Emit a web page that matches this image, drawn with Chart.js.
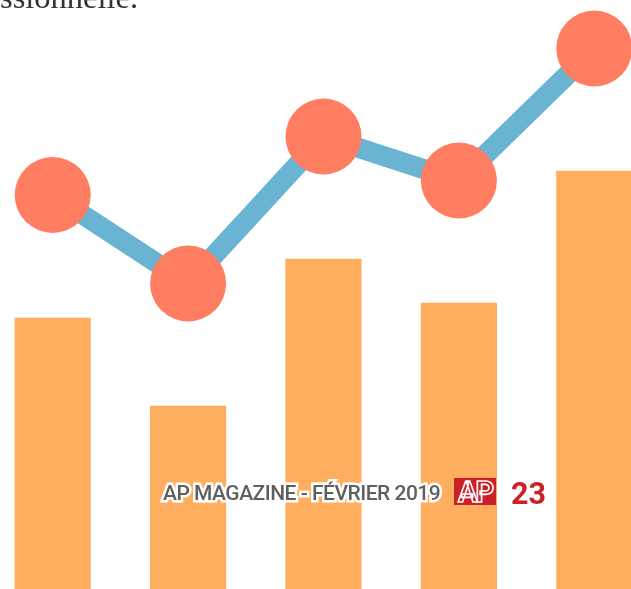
<!DOCTYPE html>
<html lang="fr">
<head>
<meta charset="utf-8">
<title>AP Magazine</title>
<script src="https://cdn.jsdelivr.net/npm/chart.js@4/dist/chart.umd.min.js"></script>
<style>
  html, body { margin: 0; padding: 0; background: #fff; overflow: hidden; width: 631px; height: 589px; }
  /* the line points push the chart area in by their radius, so the canvas is 38px larger on each side */
  #wrap { position: absolute; left: -53px; top: -38px; width: 753px; height: 665px; }
  #top-text { position: absolute; left: 0px; top: -21px; font: 32.5px "Liberation Serif", serif; color: #333; white-space: nowrap; }
  #footer { position: absolute; left: 163px; top: 481px; font: 500 21px Roboto, sans-serif; color: #5f5f5f; white-space: nowrap;
    -webkit-text-stroke: 5px #fff; paint-order: stroke fill; letter-spacing: -0.5px; }
  #logo { position: absolute; left: 454px; top: 478px; width: 42px; height: 27px; background: #cb2027; color: #cb2027;
    font: bold 29px/28px Roboto, sans-serif; text-align: center; -webkit-text-stroke: 1.6px #fff; letter-spacing: -2px; overflow: hidden; }
  #page { position: absolute; left: 511px; top: 476px; font: bold 30.5px Roboto, sans-serif; color: #cb2027; }
</style>
</head>
<body>
<div id="wrap"><canvas id="chart" width="753" height="665"></canvas></div>
<div id="top-text">ssionnelle.</div>
<div id="footer">AP MAGAZINE - FÉVRIER 2019</div>
<div id="logo">AP</div>
<div id="page">23</div>
<script>
const labels = ["1", "2", "3", "4", "5"];
const barValues = [271, 183, 330, 286, 418];
const lineValues = [394, 305.5, 452.5, 408.5, 540.5];

new Chart(document.getElementById("chart").getContext("2d"), {
  type: "bar",
  data: {
    labels: labels,
    datasets: [
      {
        type: "line",
        data: lineValues,
        order: 1,
        borderColor: "#69b3d3",
        borderWidth: 20,
        pointBackgroundColor: "#ff7d60",
        pointBorderWidth: 0,
        pointRadius: 38,
        tension: 0,
        clip: false
      },
      {
        type: "bar",
        data: barValues,
        order: 2,
        backgroundColor: "#ffad5f",
        borderWidth: 0,
        barThickness: 75.5
      }
    ]
  },
  options: {
    responsive: false,
    animation: false,
    layout: { padding: 0 },
    plugins: {
      legend: { display: false },
      title: { display: false },
      tooltip: { enabled: false }
    },
    scales: {
      x: { display: false },
      y: { display: false, min: 0, max: 589 }
    }
  }
});
</script>
</body>
</html>
